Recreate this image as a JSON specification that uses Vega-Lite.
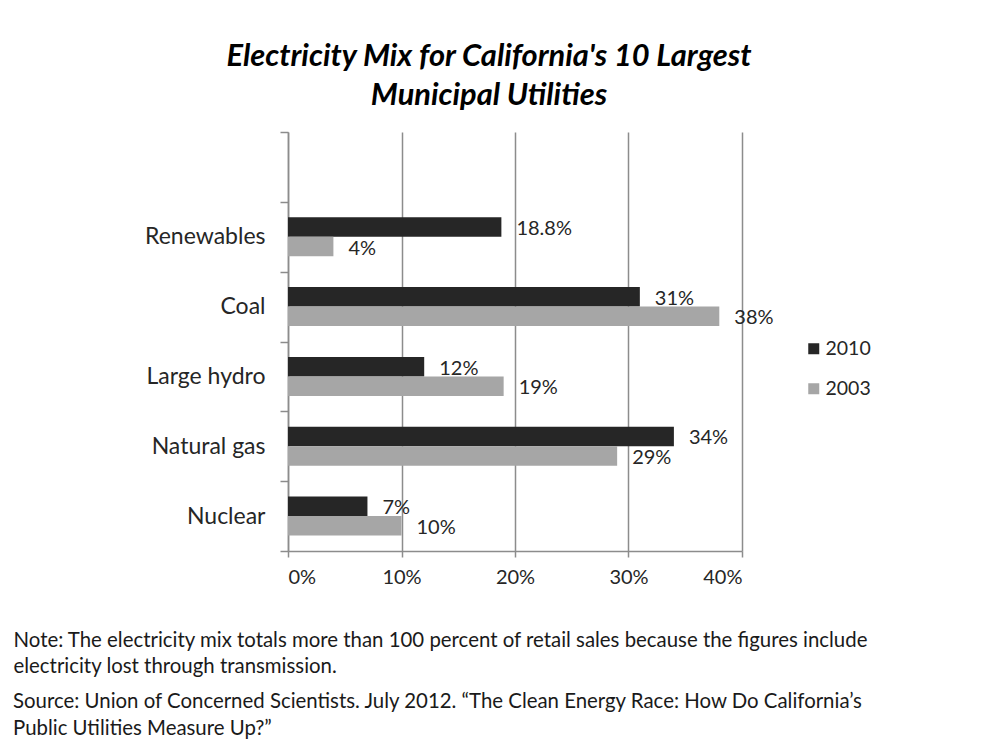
{
  "$schema": "https://vega.github.io/schema/vega-lite/v6.json",
  "background": "white",
  "padding": {"left": 13, "top": 41, "right": 10, "bottom": 10},
  "config": {
    "font": "Lato",
    "view": {"stroke": null}
  },
  "title": {
    "text": ["Source: Union of Concerned Scientists.  July 2012.  “The Clean Energy Race: How Do California’s", "Public Utilities Measure Up?”"],
    "orient": "bottom",
    "anchor": "start",
    "frame": "bounds",
    "font": "Lato",
    "fontSize": 20.4,
    "fontWeight": "normal",
    "color": "#1a1a1a",
    "lineHeight": 27,
    "offset": 16
  },
  "vconcat": [
    {
      "width": 454,
      "height": 419,
      "title": {
        "text": ["Electricity Mix for California's 10 Largest", "Municipal Utilities"],
        "font": "Lato",
        "fontSize": 30.8,
        "fontStyle": "italic",
        "fontWeight": "bold",
        "lineHeight": 39,
        "anchor": "middle",
        "frame": "group",
        "dx": -26,
        "offset": 9,
        "color": "black"
      },
      "data": {
        "values": [
          {"source": "Renewables", "year": "2010", "value": 0.188},
          {"source": "Renewables", "year": "2003", "value": 0.04},
          {"source": "Coal", "year": "2010", "value": 0.31},
          {"source": "Coal", "year": "2003", "value": 0.38},
          {"source": "Large hydro", "year": "2010", "value": 0.12},
          {"source": "Large hydro", "year": "2003", "value": 0.19},
          {"source": "Natural gas", "year": "2010", "value": 0.34},
          {"source": "Natural gas", "year": "2003", "value": 0.29},
          {"source": "Nuclear", "year": "2010", "value": 0.07},
          {"source": "Nuclear", "year": "2003", "value": 0.10}
        ]
      },
      "encoding": {
        "y": {
          "field": "source",
          "type": "nominal",
          "scale": {"domain": [" ", "Renewables", "Coal", "Large hydro", "Natural gas", "Nuclear"], "paddingInner": 0, "paddingOuter": 0},
          "axis": {
            "title": null,
            "tickBand": "extent",
            "tickSize": 8,
            "tickColor": "#8c8c8c",
            "tickWidth": 1.5,
            "domainColor": "#8c8c8c",
            "domainWidth": 1.5,
            "labelFontSize": 23,
            "labelColor": "#262626",
            "labelPadding": 15,
            "grid": false
          }
        },
        "yOffset": {
          "field": "year",
          "type": "nominal",
          "scale": {"domain": ["2010", "2003"], "paddingInner": 0, "paddingOuter": 0.79}
        },
        "x": {
          "field": "value",
          "type": "quantitative",
          "scale": {"domain": [0, 0.4], "nice": false},
          "axis": {
            "values": [0, 0.1, 0.2, 0.3, 0.4],
            "format": "%",
            "grid": true,
            "gridColor": "#8c8c8c",
            "gridWidth": 1.5,
            "domainColor": "#8c8c8c",
            "domainWidth": 1.5,
            "tickColor": "#8c8c8c",
            "tickWidth": 1.5,
            "tickSize": 6,
            "labelFontSize": 20,
            "labelColor": "#262626",
            "labelPadding": 10,
            "title": ["Note: The electricity mix totals more than 100 percent of retail sales because the figures include", "electricity lost through transmission."],
            "titleFontSize": 20.4,
            "titleFontWeight": "normal",
            "titleColor": "#1a1a1a",
            "titleAlign": "left",
            "titleAnchor": "start",
            "titleX": -275,
            "titleY": 79,
            "titleBaseline": "top",
            "titleLineHeight": 26
          }
        }
      },
      "layer": [
        {
          "mark": {"type": "bar"},
          "encoding": {
            "color": {
              "field": "year",
              "type": "nominal",
              "scale": {"domain": ["2010", "2003"], "range": ["#262626", "#a6a6a6"]},
              "legend": {
                "title": null,
                "orient": "none",
                "legendX": 516,
                "legendY": 207,
                "symbolType": "square",
                "symbolSize": 121,
                "symbolStrokeWidth": 0,
                "labelFontSize": 19.5,
                "labelOffset": 2,
                "rowPadding": 19,
                "padding": 0,
                "labelColor": "#262626"
              }
            }
          }
        },
        {
          "mark": {"type": "text", "align": "left", "baseline": "middle", "dx": 15, "dy": 2, "fontSize": 20, "color": "#262626"},
          "encoding": {
            "text": {"field": "value", "type": "quantitative", "format": "~%"}
          }
        }
      ]
    }
  ]
}
